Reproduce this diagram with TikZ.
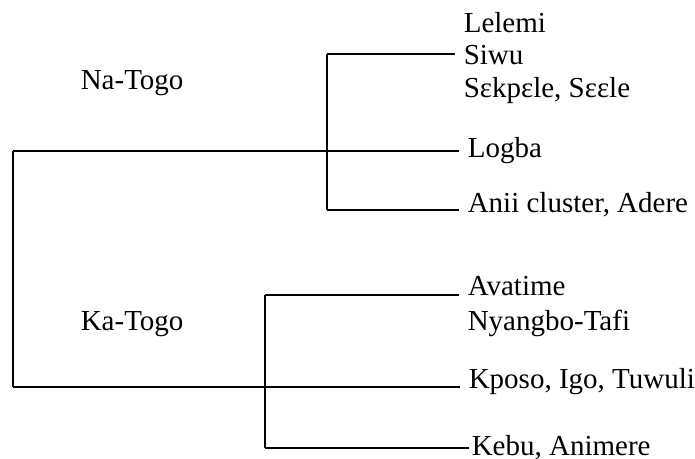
\documentclass[tikz,border=0pt]{standalone}
\usepackage{fontspec}
\setmainfont{Liberation Serif}
\usepackage{tikz}
\usetikzlibrary{positioning}

\begin{document}
\begin{tikzpicture}[x=0.5pt,y=-0.5pt,line width=0.8pt]
  \useasboundingbox (0,0) rectangle (695,459);
    \tikzstyle{lang}=[anchor=base west,inner sep=4pt,font=\fontsize{14.5}{17}\selectfont]

  \node[lang] (lelemi) at (455,33) {Lelemi};
  \node[lang] (siwu) at (455,65) {Siwu};
  \node[lang] (sekpele) at (455,98) {Sɛkpɛle, Sɛɛle};
  \node[lang] (logba) at (459,158) {Logba};
  \node[lang] (anii) at (459,213) {Anii cluster, Adere};
  \node[lang] (avatime) at (459,296) {Avatime};
  \node[lang] (nyangbo) at (459,330) {Nyangbo-Tafi};
  \node[lang] (kposo) at (460,388) {Kposo, Igo, Tuwuli};
  \node[lang,inner xsep=1pt] (kebu) at (469,455) {Kebu, Animere};
  \node[lang] (natogo) at (72,90) {Na-Togo};
  \node[lang] (katogo) at (72,330) {Ka-Togo};

    \coordinate (root1) at (13,151);
    \coordinate (root2) at (13,387);
    \coordinate (na1) at (327,54);
    \coordinate (na2) at (327,210);
    \coordinate (ka1) at (265,295);
    \coordinate (ka2) at (265,448);

\draw (root1) -- (root2);
\draw (root1) -- (root1 -| logba.west);
\draw (root2) -- (root2 -| kposo.west);
\draw (na1) -- (na2);
\draw (na1) -- (na1 -| siwu.west);
\draw (na2) -- (na2 -| anii.west);
\draw (ka1) -- (ka2);
\draw (ka1) -- (ka1 -| avatime.west);
\draw (ka2) -- (ka2 -| kebu.west);
    \end{tikzpicture}
\end{document}
